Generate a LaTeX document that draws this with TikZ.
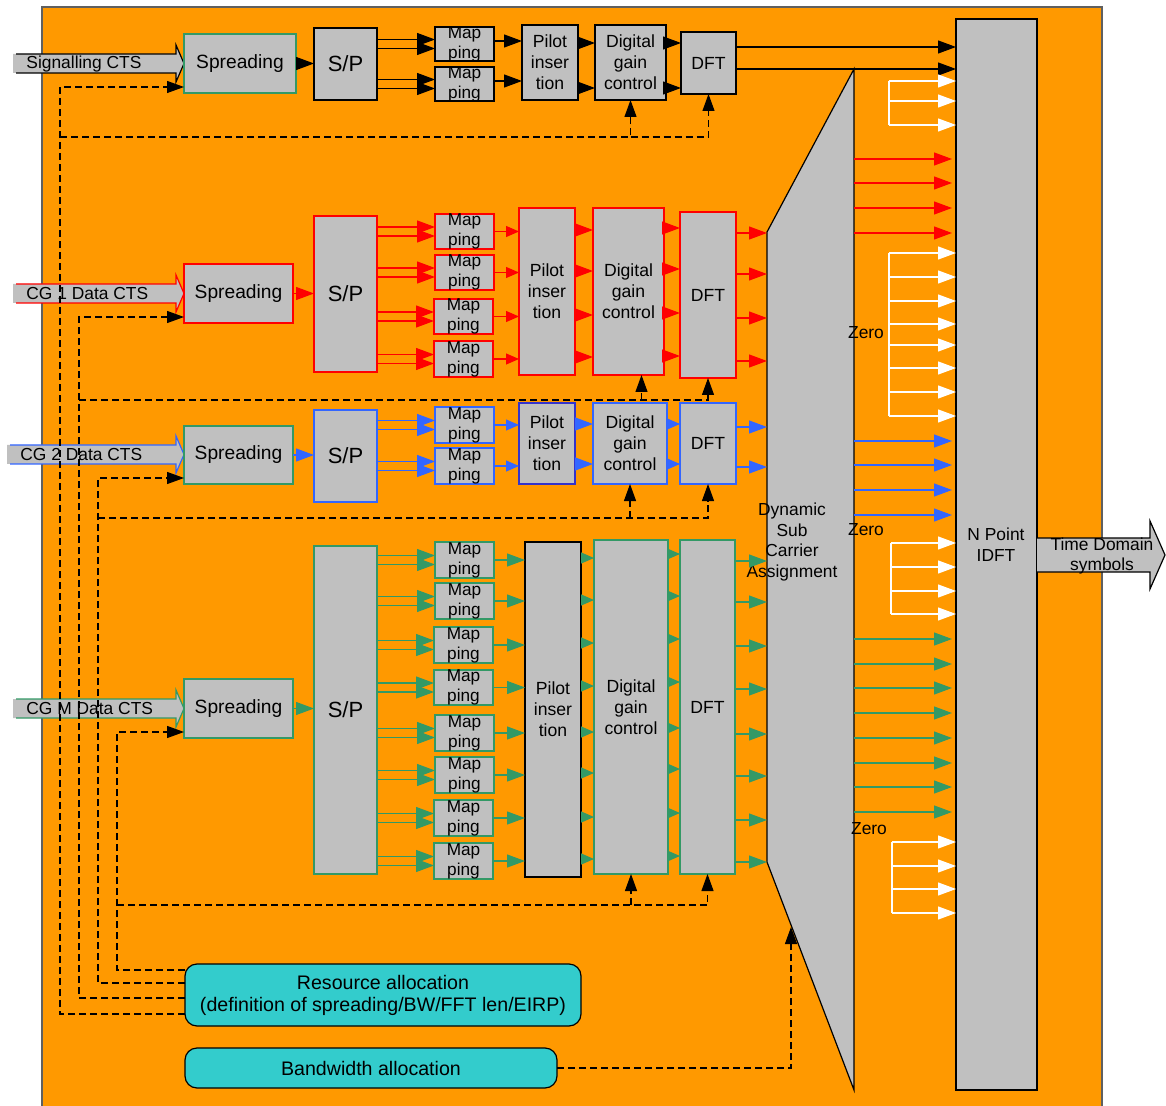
\documentclass[tikz,border=0pt]{standalone}
\usepackage{fontspec}
\setmainfont{Liberation Sans}
\usetikzlibrary{arrows.meta}
\definecolor{orng}{HTML}{FF9900}
\definecolor{bgray}{HTML}{C0C0C0}
\definecolor{cgred}{HTML}{FF0000}
\definecolor{cgblue}{HTML}{3366FF}
\definecolor{cggreen}{HTML}{339966}
\definecolor{navyb}{HTML}{3333CC}
\definecolor{cyanb}{HTML}{33CCCC}
\definecolor{framec}{HTML}{606060}
% box: style, font style, name, x1, y1, x2, y2, text
\newcommand\bx[8]{%
  \node[box,#1,minimum width={(#6-#4)*0.5pt},minimum height={(#7-#5)*0.5pt}] (#3) at ({(#4+#6)/2},{(#5+#7)/2}) {};
  \node[txt,#2] (#3t) at (#3.center) {#8};}
% input arrow: colour, x left, y centre, name, x label, y label, text
\newcommand\inarr[7]{%
  \fill[bgray] (#2,#3-9.5) -- (176,#3-9.5) -- (176,#3-18.5) -- (184,#3) -- (176,#3+18.5) -- (176,#3+9.5) -- (#2,#3+9.5) -- cycle;
  \draw[#1,line width=0.6pt] (#2+3,#3-9.5) -- (176,#3-9.5) -- (176,#3-18.5) -- (184,#3) -- (176,#3+18.5) -- (176,#3+9.5) -- (#2+3,#3+9.5);
  \node[txt,flab,anchor=west] (#4) at (#5,#6) {#7};}
\begin{document}
\begin{tikzpicture}[x=0.5pt,y=-0.5pt,
  box/.style={fill=bgray,draw=black,line width=0.6pt,inner sep=0pt,outer sep=0pt},
  txt/.style={align=center,inner sep=0pt,text=black},
  fspr/.style={font=\fontsize{9.6}{11}\selectfont},
  fsp/.style={font=\fontsize{11}{13}\selectfont},
  fmap/.style={font=\fontsize{8.6}{10}\selectfont},
  fblk/.style={font=\fontsize{8.8}{10.5}\selectfont},
  flab/.style={font=\fontsize{8.7}{10.4}\selectfont},
  fres/.style={font=\fontsize{9.8}{11}\selectfont},
  ar/.style={line width=0.6pt,-{Triangle[length=9pt,width=6.5pt]}},
  ars/.style={line width=0.6pt,-{Triangle[length=6.5pt,width=5.5pt]}},
  dsh/.style={line width=0.6pt,dash pattern=on 3.5pt off 2pt,-{Triangle[length=8.5pt,width=6pt]}},
  wl/.style={white,line width=0.6pt}]
\useasboundingbox (0,0) rectangle (1166,1106);
\draw[fill=orng,draw=framec,line width=0.6pt] (42,7) rectangle (1102,1112);

% ---------- input arrows ----------
\inarr{black}{13}{63.5}{in0}{26}{64.5}{Signalling CTS}
\inarr{cgred}{13}{293.5}{in1}{26}{293.5}{CG 1 Data CTS}
\inarr{cgblue}{7}{454.5}{in2}{20}{454.5}{CG 2 Data CTS}
\inarr{cggreen}{13}{708.5}{inM}{26}{708.5}{CG M Data CTS}

% ---------- signalling row ----------
\bx{draw=cggreen}{fspr}{spr0}{184}{34}{296}{93}{Spreading}
\bx{}{fsp}{ssp0}{314}{28}{377}{100}{S/P}
\bx{}{fmap}{m0a}{435}{27}{494}{61}{Map\\ping}
\bx{}{fmap}{m0b}{435}{67}{494}{101}{Map\\ping}
\bx{}{fblk}{pil0}{522}{25}{578}{100}{Pilot\\inser\\tion}
\bx{}{fblk}{dig0}{595}{25}{666}{100}{Digital\\gain\\control}
\bx{}{fblk}{dft0}{681}{32}{736}{94}{DFT}
\draw[ar] (spr0.east) -- (spr0.east -| ssp0.west);
\foreach \n in {m0a,m0b}{
  \path (\n.west) ++(0,-4.5) coordinate (\n-u) ++(0,9) coordinate (\n-d);
  \draw[ar] (ssp0.east |- \n-u) -- (\n-u);
  \draw[ar] (ssp0.east |- \n-d) -- (\n-d);
}
\draw[ar] (m0a.east |- 0,41) -- (pil0.west |- 0,41);
\draw[ar] (m0b.east |- 0,81) -- (pil0.west |- 0,81);
\foreach \y in {43,88}{
  \draw[ar] (pil0.east |- 0,\y) -- (dig0.west |- 0,\y);
  \draw[ar] (dig0.east |- 0,\y) -- (dft0.west |- 0,\y);
}

% ---------- CG1 row ----------
\bx{draw=cgred}{fspr}{spr1}{184}{264}{293}{323}{Spreading}
\bx{draw=cgred}{fsp}{ssp1}{314}{216}{377}{372}{S/P}
\bx{draw=cgred}{fmap}{m1a}{435}{214}{494}{249}{Map\\ping}
\bx{draw=cgred}{fmap}{m1b}{435}{255}{494}{290}{Map\\ping}
\bx{draw=cgred}{fmap}{m1c}{434}{299}{493}{334}{Map\\ping}
\bx{draw=cgred}{fmap}{m1d}{434}{341}{493}{377}{Map\\ping}
\bx{draw=cgred}{fblk}{pil1}{519}{208}{575}{375}{Pilot\\inser\\tion}
\bx{draw=cgred}{fblk}{dig1}{593}{208}{664}{375}{Digital\\gain\\control}
\bx{draw=cgred}{fblk}{dft1}{680}{212}{736}{378}{DFT}
\draw[ar,cgred] (spr1.east) -- (spr1.east -| ssp1.west);
\foreach \n in {m1a,m1b,m1c,m1d}{
  \path (\n.west) ++(0,-4.5) coordinate (\n-u) ++(0,9) coordinate (\n-d);
  \draw[ar,cgred] (ssp1.east |- \n-u) -- (\n-u);
  \draw[ar,cgred] (ssp1.east |- \n-d) -- (\n-d);
  \draw[ars,cgred] (\n.east) -- (\n.east -| pil1.west);
}
\foreach \y in {230,271,315,357} \draw[ar,cgred] (pil1.east |- 0,\y) -- (dig1.west |- 0,\y);
\foreach \y in {228,269,313,356} \draw[ar,cgred] (dig1.east |- 0,\y) -- (dft1.west |- 0,\y);

% ---------- CG2 row ----------
\bx{draw=cggreen}{fspr}{spr2}{184}{426}{293}{484}{Spreading}
\bx{draw=cgblue}{fsp}{ssp2}{314}{410}{377}{502}{S/P}
\bx{draw=cgblue}{fmap}{m2a}{435}{407}{494}{443}{Map\\ping}
\bx{draw=cgblue}{fmap}{m2b}{435}{448}{494}{484}{Map\\ping}
\bx{draw=navyb}{fblk}{pil2}{519}{403}{575}{484}{Pilot\\inser\\tion}
\bx{draw=cgblue}{fblk}{dig2}{593}{403}{667}{484}{Digital\\gain\\control}
\bx{draw=cgblue}{fblk}{dft2}{680}{403}{736}{484}{DFT}
\draw[ar,cgblue] (spr2.east) -- (spr2.east -| ssp2.west);
\foreach \n in {m2a,m2b}{
  \path (\n.west) ++(0,-4.5) coordinate (\n-u) ++(0,9) coordinate (\n-d);
  \draw[ar,cgblue] (ssp2.east |- \n-u) -- (\n-u);
  \draw[ar,cgblue] (ssp2.east |- \n-d) -- (\n-d);
  \draw[ars,cgblue] (\n.east) -- (\n.east -| pil2.west);
}
\foreach \y in {424,464}{
  \draw[ar,cgblue] (pil2.east |- 0,\y) -- (dig2.west |- 0,\y);
  \draw[ars,cgblue] (dig2.east |- 0,\y) -- (dft2.west |- 0,\y);
}

% ---------- CG M row ----------
\bx{draw=cggreen}{fspr}{sprM}{184}{679}{293}{738}{Spreading}
\bx{draw=cggreen}{fsp}{sspM}{314}{546}{377}{874}{S/P}
\bx{draw=cggreen}{fmap}{mMa}{435}{542}{494}{578}{Map\\ping}
\bx{draw=cggreen}{fmap}{mMb}{435}{583}{494}{619}{Map\\ping}
\bx{draw=cggreen}{fmap}{mMc}{434}{627}{493}{663}{Map\\ping}
\bx{draw=cggreen}{fmap}{mMd}{434}{670}{493}{705}{Map\\ping}
\bx{draw=cggreen}{fmap}{mMe}{435}{715}{494}{751}{Map\\ping}
\bx{draw=cggreen}{fmap}{mMf}{435}{757}{494}{793}{Map\\ping}
\bx{draw=cggreen}{fmap}{mMg}{434}{800}{493}{836}{Map\\ping}
\bx{draw=cggreen}{fmap}{mMh}{434}{843}{493}{879}{Map\\ping}
\bx{}{fblk}{pilM}{525}{542}{581}{877}{Pilot\\inser\\tion}
\bx{draw=cggreen}{fblk}{digM}{594}{540}{668}{874}{Digital\\gain\\control}
\bx{draw=cggreen}{fblk}{dftM}{680}{540}{735}{874}{DFT}
\draw[ar,cggreen] (sprM.east) -- (sprM.east -| sspM.west);
\foreach \n in {mMa,mMb,mMc,mMd,mMe,mMf,mMg,mMh}{
  \path (\n.west) ++(0,-4.5) coordinate (\n-u) ++(0,9) coordinate (\n-d);
  \draw[ar,cggreen] (sspM.east |- \n-u) -- (\n-u);
  \draw[ar,cggreen] (sspM.east |- \n-d) -- (\n-d);
  \draw[ar,cggreen] (\n.east) -- (\n.east -| pilM.west);
}
\foreach \y in {558,600,643,686,732,773,817,859} \draw[ars,cggreen] (pilM.east |- 0,\y) -- (digM.west |- 0,\y);
\foreach \y in {554,596,639,682,728,769,813,856} \draw[ars,cggreen] (digM.east |- 0,\y) -- (dftM.west |- 0,\y);

% ---------- dynamic sub carrier assignment ----------
\draw[fill=bgray,line width=0.6pt] (767,232) -- (854,69) -- (854,1090) -- (767,862) -- cycle;
\node[inner sep=0pt,outer sep=0pt,minimum width={87*0.5pt},minimum height={1021*0.5pt}] (dscab) at (810.5,579.5) {};
\node[txt,flab] (dsca) at (792,542) {Dynamic\\Sub\\Carrier\\Assignment};
\foreach \y in {233,274,318,361} \draw[ar,cgred] (dft1.east |- 0,\y) -- (dscab.west |- 0,\y);
\foreach \y in {427,467} \draw[ar,cgblue] (dft2.east |- 0,\y) -- (dscab.west |- 0,\y);
\foreach \y in {561,602,646,689,734,776,820,862} \draw[ar,cggreen] (dftM.east |- 0,\y) -- (dscab.west |- 0,\y);

% ---------- N point IDFT ----------
\node[box,minimum width={81*0.5pt},minimum height={1071*0.5pt}] (idft) at (996.5,554.5) {};
\node[txt,flab] (idftt) at (996,545) {N Point\\IDFT};
\foreach \y in {47,69} \draw[ar] (dft0.east |- 0,\y) -- (idft.west |- 0,\y);
\foreach \y in {159,183,208,233} \draw[ar,cgred,shorten >=2pt] (dscab.east |- 0,\y) -- (idft.west |- 0,\y);
\foreach \y in {441,465,490,515} \draw[ar,cgblue,shorten >=2pt] (dscab.east |- 0,\y) -- (idft.west |- 0,\y);
\foreach \y in {639,664,688,713,738,763,787,812} \draw[ar,cggreen,shorten >=2pt] (dscab.east |- 0,\y) -- (idft.west |- 0,\y);

% zero (white) groups
\draw[wl] (889,81) -- (889,125);
\draw[wl] (889,253) -- (889,416);
\draw[wl] (891,543) -- (891,614);
\draw[wl] (892,842) -- (892,913);
\foreach \y in {81,101,125,253,277,301,324,345,368,392,416}{
  \coordinate (w\y) at (889,\y); \draw[ar,white] (w\y) -- (idft.west |- w\y);}
\foreach \y in {543,567,591,614}{
  \coordinate (w\y) at (891,\y); \draw[ar,white] (w\y) -- (idft.west |- w\y);}
\foreach \y in {842,866,889,913}{
  \coordinate (w\y) at (892,\y); \draw[ar,white] (w\y) -- (idft.west |- w\y);}
\node[txt,flab] (zero1) at (866,333) {Zero};
\node[txt,flab] (zero2) at (866,530) {Zero};
\node[txt,flab] (zero3) at (869,829) {Zero};

% ---------- output arrow ----------
\fill[bgray] (1037,538) -- (1150,538) -- (1150,521) -- (1165,555) -- (1150,589) -- (1150,572) -- (1037,572) -- cycle;
\draw[line width=0.6pt] (1037,538) -- (1150,538) -- (1150,521) -- (1165,555) -- (1150,589) -- (1150,572) -- (1037,572);
\node[txt,flab] (tds) at (1102,556) {Time Domain\\symbols};

% ---------- allocation boxes ----------
\bx{fill=cyanb,rounded corners=6pt}{fres}{res}{185}{964}{581}{1026}{Resource allocation\\(definition of spreading/BW/FFT len/EIRP)}
\bx{fill=cyanb,rounded corners=6pt}{fres}{bw}{185}{1048}{557}{1088}{Bandwidth allocation}

% ---------- dashed control lines ----------
\coordinate (j0) at (60,137);
\coordinate (j1) at (79,400);
\coordinate (j2) at (98,518);
\coordinate (j3) at (117,905);
\coordinate (d1s) at ([xshift=6.5pt]dig1.south);
\coordinate (bwin) at (791,927);
\draw[dsh] (res.west |- 0,1014) -| (60,87) -- (spr0.west |- 0,87);
\draw[dsh] (j0) -| (dig0.south);
\draw[dsh] (dig0.south |- j0) -| (dft0.south);
\draw[dsh] (res.west |- 0,998) -| (79,317) -- (spr1.west |- 0,317);
\draw[dsh] (j1) -| (dft1.south);
\draw[dsh] (d1s |- j1) -- (d1s);
\draw[dsh] (res.west |- 0,983) -| (98,478) -- (spr2.west |- 0,478);
\draw[dsh] (j2) -| (dft2.south);
\draw[dsh] (dig2.south |- j2) -- (dig2.south);
\draw[dsh] (res.west |- 0,970) -| (117,732) -- (sprM.west |- 0,732);
\draw[dsh] (j3) -| (dftM.south);
\draw[dsh] (digM.south |- j3) -- (digM.south);
\draw[dsh] (bw.east) -| (bwin);
\end{tikzpicture}
\end{document}
